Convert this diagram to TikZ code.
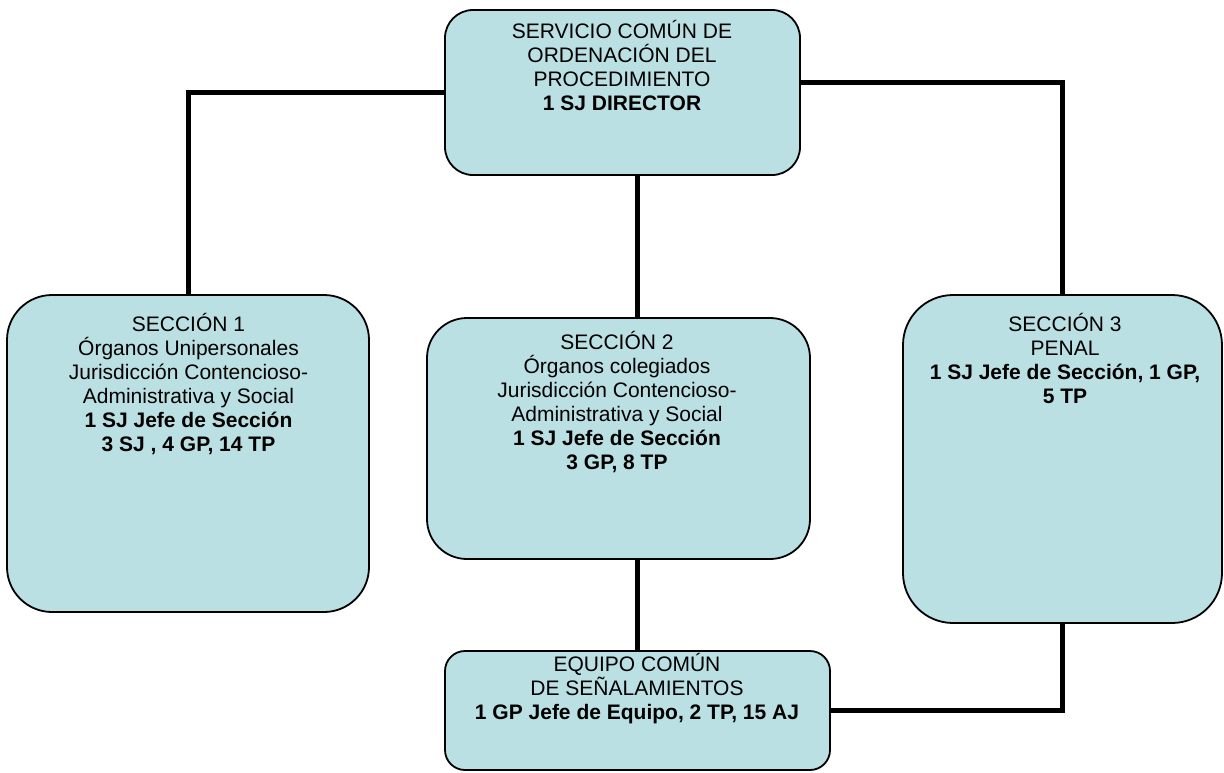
\documentclass[tikz,border=0pt]{standalone}
\usepackage{fontspec}
\setmainfont{Liberation Sans}
\definecolor{boxfill}{HTML}{BBE0E3}
\begin{document}
\begin{tikzpicture}[x=1pt,y=-1pt,
  box/.style={draw=black, line width=1.8pt, fill=boxfill, inner sep=0pt, outer sep=0pt},
  txt/.style={anchor=north, align=center, inner sep=0pt, text=black,
              font=\fontsize{21}{24}\selectfont},
  conn/.style={draw=black, line width=5pt}]
\useasboundingbox (0,0) rectangle (1224,772);
% boxes
\node[box, rounded corners=28pt, minimum width=355pt, minimum height=165pt] (top) at (622.5,92.5) {};
\node[box, rounded corners=45pt, minimum width=362pt, minimum height=317pt] (s1) at (188,453.5) {};
\node[box, rounded corners=40pt, minimum width=383pt, minimum height=241pt] (s2) at (618.5,438.5) {};
\node[box, rounded corners=50pt, minimum width=319pt, minimum height=328pt] (s3) at (1062.5,459) {};
\node[box, rounded corners=20pt, minimum width=385pt, minimum height=119pt] (bot) at (637.5,710.5) {};
% connectors
\begin{scope}[on background layer/.style={}]
\end{scope}
% texts
\node[txt] (toptext) at (622,20) {SERVICIO COMÚN DE\\ORDENACIÓN DEL\\PROCEDIMIENTO\\\textbf{1 SJ DIRECTOR}};
\node[txt] (s1text) at (188.5,313) {SECCIÓN 1\\Órganos Unipersonales\\Jurisdicción Contencioso-\\Administrativa y Social\\\textbf{1 SJ Jefe de Sección}\\\textbf{3 SJ , 4 GP, 14 TP}};
\node[txt] (s2text) at (617,331) {SECCIÓN 2\\Órganos colegiados\\Jurisdicción Contencioso-\\Administrativa y Social\\\textbf{1 SJ Jefe de Sección}\\\textbf{3 GP, 8 TP}};
\node[txt] (s3text) at (1065,313) {SECCIÓN 3\\PENAL\\\textbf{1 SJ Jefe de Sección, 1 GP,}\\\textbf{5 TP}};
\node[txt] (bottext) at (637,653) {EQUIPO COMÚN\\DE SEÑALAMIENTOS\\\textbf{1 GP Jefe de Equipo, 2 TP, 15 AJ}};
% connectors
\draw[conn] (top.west) -| (s1.north);
\draw[conn] ([yshift=10.5pt]top.east) -| (s3.north);
\draw[conn] ([xshift=14.5pt]top.south) -- ([xshift=14.5pt]top.south |- s2.north);
\draw[conn] (bot.north) -- (bot.north |- s2.south);
\draw[conn] (s3.south) |- (bot.east);
\end{tikzpicture}
\end{document}
